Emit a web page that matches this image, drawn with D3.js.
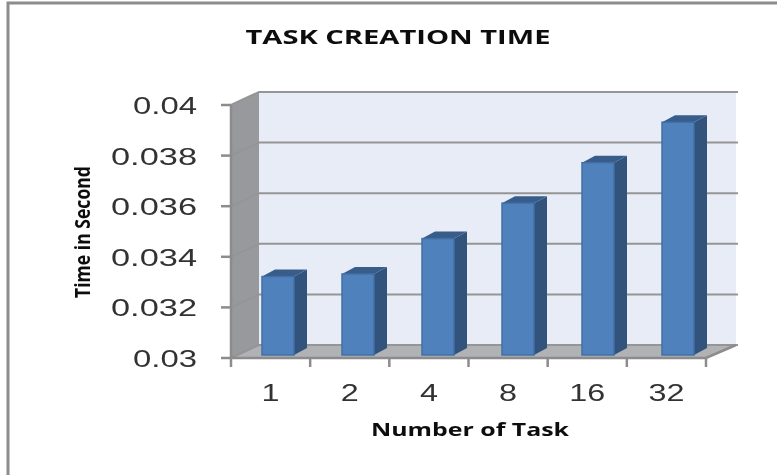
<!DOCTYPE html>
<html>
<head>
<meta charset="utf-8">
<script src="https://cdn.jsdelivr.net/npm/d3@7/dist/d3.min.js"></script>
<style>
  html, body { margin: 0; padding: 0; background: #fff; }
  svg { display: block; }
</style>
</head>
<body>
<div id="chart"></div>
<script>
const categories = ["1", "2", "4", "8", "16", "32"];
const times = [0.0331, 0.0332, 0.0346, 0.036, 0.0376, 0.0392];
const yTicks = [0.03, 0.032, 0.034, 0.036, 0.038, 0.04];
const yLabels = ["0.03", "0.032", "0.034", "0.036", "0.038", "0.04"];

const width = 777, height = 475;

const root = d3.select("#chart")
    .append("svg")
    .attr("width", width)
    .attr("height", height);

// the reference is a soft, scaled up image
root.append("filter")
    .attr("id", "soft")
    .attr("x", "-5%").attr("y", "-5%")
    .attr("width", "110%").attr("height", "110%")
    .append("feGaussianBlur")
    .attr("stdDeviation", 0.4);

const svg = root.append("g").attr("filter", "url(#soft)");

// picture frame, only top and left show
svg.append("path")
    .attr("d", "M8,480V3H782")
    .attr("fill", "none")
    .attr("stroke", "#8c8c8c")
    .attr("stroke-width", 3);

// front plane of the 3d box
const x = d3.scaleBand().domain(categories).range([231, 706]);
const y = d3.scaleLinear().domain([0.03, 0.04]).range([358, 105]);
// bars stand in the middle of the box, left edge of each one
const barX = d3.scalePoint().domain(categories).range([262, 662]);

// how far the back wall is pushed from the front plane
const depthX = 28, depthY = -13;
const barW = 32, barDX = 13, barDY = -7;
const barShiftY = -3;

const [x0, x1] = x.range();
const yTop = y(0.04), yBase = y(0.03);

// back wall
svg.append("polygon")
    .attr("points", [[x0 + depthX, yTop + depthY], [x1 + depthX + 2, yTop + depthY], [x1 + depthX + 2, yBase + depthY], [x0 + depthX, yBase + depthY]].join(" "))
    .attr("fill", "#e8ecf6");

// side wall
svg.append("polygon")
    .attr("points", [[x0, yTop], [x0 + depthX, yTop + depthY], [x0 + depthX, yBase + depthY], [x0, yBase]].join(" "))
    .attr("fill", "#97999c");

// floor
svg.append("polygon")
    .attr("points", [[x0, yBase], [x0 + depthX, yBase + depthY], [x1 + depthX + 2, yBase + depthY], [x1, yBase]].join(" "))
    .attr("fill", "#b0b2b5");

// gridlines, wall part then back part
svg.append("g")
    .selectAll("path")
    .data(yTicks)
    .enter().append("path")
    .attr("d", d => `M${x0},${y(d)}L${x0 + depthX},${y(d) + depthY}H${x1 + depthX + 4}`)
    .attr("fill", "none")
    .attr("stroke", "#959595")
    .attr("stroke-width", 2);

// axes
svg.append("path")
    .attr("d", `M${x0},${yTop}V${yBase}H${x1}L${x1 + depthX + 2},${yBase + depthY}`)
    .attr("fill", "none")
    .attr("stroke", "#8c8c8c")
    .attr("stroke-width", 2.5);

svg.append("g")
    .selectAll("line")
    .data(yTicks)
    .enter().append("line")
    .attr("x1", x0 - 10)
    .attr("x2", x0)
    .attr("y1", d => y(d))
    .attr("y2", d => y(d))
    .attr("stroke", "#8c8c8c")
    .attr("stroke-width", 2.5);

svg.append("g")
    .selectAll("line")
    .data(categories.concat("end"))
    .enter().append("line")
    .attr("x1", (d, i) => x0 + i * x.step())
    .attr("x2", (d, i) => x0 + i * x.step())
    .attr("y1", yBase)
    .attr("y2", yBase + 9)
    .attr("stroke", "#8c8c8c")
    .attr("stroke-width", 2.5);

// bars
const bars = svg.append("g")
    .selectAll("g")
    .data(categories.map((c, i) => ({ cat: c, value: times[i] })))
    .enter().append("g")
    .attr("transform", d => `translate(${barX(d.cat)},${barShiftY})`);

bars.append("polygon")
    .attr("points", d => [[barW, y(d.value)], [barW + barDX, y(d.value) + barDY], [barW + barDX, yBase + barDY], [barW, yBase]].join(" "))
    .attr("fill", "#31527c");

bars.append("polygon")
    .attr("points", d => [[0, y(d.value)], [barDX, y(d.value) + barDY], [barW + barDX, y(d.value) + barDY], [barW, y(d.value)]].join(" "))
    .attr("fill", "#385d8a");

bars.append("rect")
    .attr("x", 0)
    .attr("y", d => y(d.value))
    .attr("width", barW)
    .attr("height", d => yBase - y(d.value))
    .attr("fill", "#4f81bd")
    .attr("stroke", "#426fa6")
    .attr("stroke-width", 1.5);

// tick labels, stretched wide like the original
svg.append("g")
    .selectAll("text")
    .data(yTicks)
    .enter().append("text")
    .attr("x", 197)
    .attr("y", d => y(d) + 9)
    .attr("text-anchor", "end")
    .attr("textLength", (d, i) => yLabels[i].length === 4 ? 64 : 86)
    .attr("lengthAdjust", "spacingAndGlyphs")
    .style("font-family", "'Liberation Sans', sans-serif")
    .style("font-size", "23px")
    .style("fill", "#333")
    .text((d, i) => yLabels[i]);

svg.append("g")
    .selectAll("text")
    .data(categories)
    .enter().append("text")
    .attr("x", d => x(d) + x.bandwidth() / 2)
    .attr("y", 401)
    .attr("text-anchor", "middle")
    .attr("textLength", d => d.length * 18)
    .attr("lengthAdjust", "spacingAndGlyphs")
    .style("font-family", "'Liberation Sans', sans-serif")
    .style("font-size", "23px")
    .style("fill", "#333")
    .text(d => d);

// titles
svg.append("text")
    .attr("x", 398)
    .attr("y", 44)
    .attr("text-anchor", "middle")
    .attr("textLength", 305)
    .attr("lengthAdjust", "spacingAndGlyphs")
    .style("font-family", "'Open Sans', sans-serif")
    .style("font-weight", "bold")
    .style("font-size", "20px")
    .style("fill", "#111")
    .text("TASK CREATION TIME");

svg.append("text")
    .attr("x", 470)
    .attr("y", 436)
    .attr("text-anchor", "middle")
    .attr("textLength", 198)
    .attr("lengthAdjust", "spacingAndGlyphs")
    .style("font-family", "'Open Sans', sans-serif")
    .style("font-weight", "bold")
    .style("font-size", "18px")
    .style("fill", "#111")
    .text("Number of Task");

svg.append("text")
    .attr("transform", "translate(90,232) rotate(-90)")
    .attr("text-anchor", "middle")
    .attr("textLength", 132)
    .attr("lengthAdjust", "spacingAndGlyphs")
    .style("font-family", "'Open Sans', sans-serif")
    .style("font-weight", "bold")
    .style("font-size", "22px")
    .style("fill", "#111")
    .text("Time in Second");
</script>
</body>
</html>
